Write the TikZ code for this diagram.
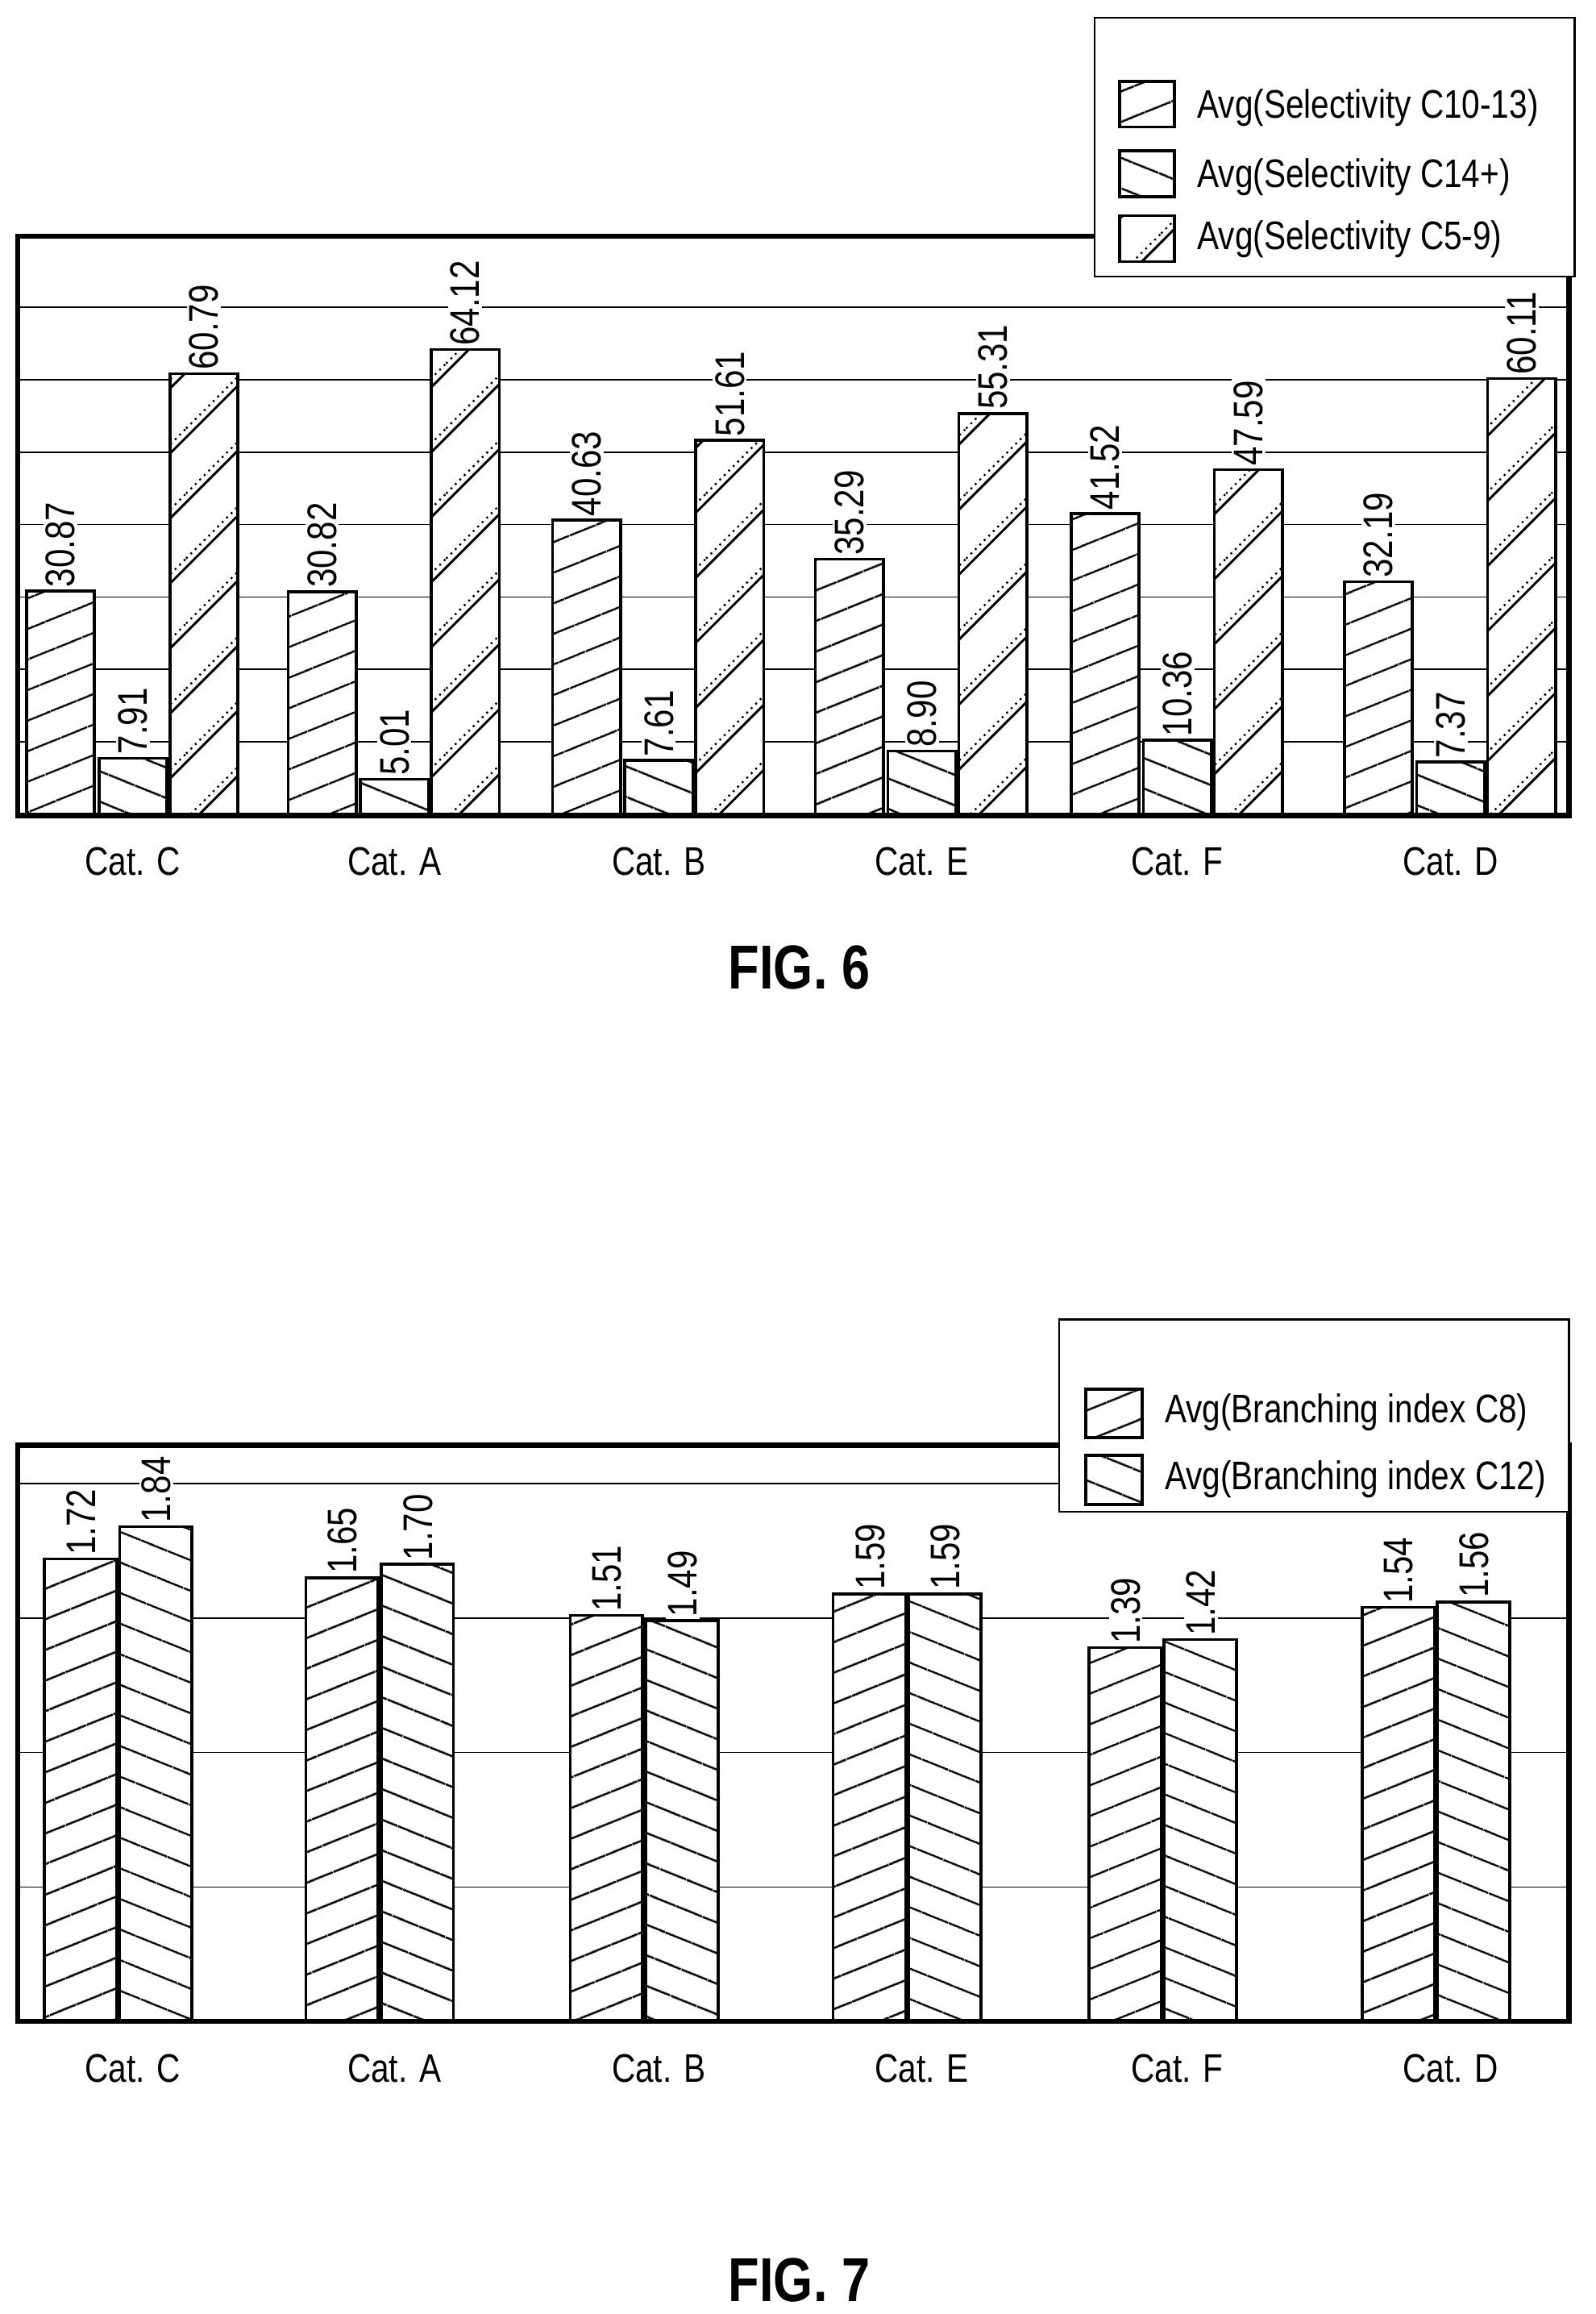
\documentclass[tikz,border=0pt]{standalone}
\usepackage{fontspec}
\setmainfont{Liberation Sans}[FakeStretch=0.82]
\usetikzlibrary{patterns,patterns.meta}
\pgfdeclarepatternformonly{dhatch}{\pgfpoint{-1pt}{-1pt}}{\pgfpoint{45pt}{45pt}}{\pgfpoint{44pt}{44pt}}{%
  \pgfsetlinewidth{1.6pt}%
  \pgfpathmoveto{\pgfpoint{0pt}{0pt}}\pgfpathlineto{\pgfpoint{44pt}{44pt}}\pgfusepath{stroke}%
  \pgfsetlinewidth{1.3pt}\pgfsetdash{{1.3pt}{3pt}}{0pt}%
  \pgfpathmoveto{\pgfpoint{0pt}{6pt}}\pgfpathlineto{\pgfpoint{38pt}{44pt}}\pgfusepath{stroke}%
  \pgfpathmoveto{\pgfpoint{38pt}{0pt}}\pgfpathlineto{\pgfpoint{44pt}{6pt}}\pgfusepath{stroke}%
}
\begin{document}
\begin{tikzpicture}[x=1pt,y=-1pt,
  lbl/.style={font=\fontsize{28}{30}\selectfont,inner sep=1.5pt,fill=white},
  cat/.style={font=\fontsize{27}{30}\selectfont},
  hA/.style={fill=white,postaction={pattern={Lines[angle=22,distance=19.5pt,line width=1.5pt]}}},
  hB/.style={fill=white,postaction={pattern={Lines[angle=-22,distance=19.5pt,line width=1.5pt]}}},
  hC/.style={fill=white,postaction={pattern=dhatch}},
  bar/.style={draw,line width=2pt},
  grid/.style={line width=0.9pt},
  frame/.style={draw,line width=3.5pt},
  leg/.style={draw,fill=white,line width=1.3pt}]
\useasboundingbox (0,0) rectangle (1080,1566);
% ---------- FIG 6 ----------
\foreach \y in {208,257,306,355,404,453,502} \draw[grid] (12,\y) -- (1062,\y);
\foreach \c/\n/\a/\b/\d [count=\i] in {90/C/30.87/7.91/60.79,267/A/30.82/5.01/64.12,446/B/40.63/7.61/51.61,624/E/35.29/8.90/55.31,797/F/41.52/10.36/47.59,982/D/32.19/7.37/60.11}{
  \pgfmathsetmacro\ya{552-4.92*\a}\pgfmathsetmacro\yb{552-4.92*\b}\pgfmathsetmacro\yd{552-4.92*\d}
  \draw[bar,hA] (\c-72,552) rectangle (\c-26,\ya);
  \draw[bar,hB] (\c-23,552) rectangle (\c+23,\yb);
  \draw[bar,hC] (\c+25,552) rectangle (\c+71,\yd);
  \node[lbl,rotate=90,anchor=west] (la\i) at (\c-49,\ya-1) {\a};
  \node[lbl,rotate=90,anchor=west] (lb\i) at (\c,\yb-1) {\b};
  \node[lbl,rotate=90,anchor=west] (ld\i) at (\c+48,\yd-1) {\d};
  \node[cat] (cat6\i) at (\c,583) {Cat. \n};
}
\draw[frame] (12,160) rectangle (1062,552);
\draw[leg] (741,12) rectangle (1066,187);
\draw[bar,hA] (758,55) rectangle (795,86);
\draw[bar,hB] (758,102) rectangle (795,133);
\draw[bar,hC] (758,146) rectangle (795,177);
\node[cat,anchor=west] (l61) at (807,73) {Avg(Selectivity C10-13)};
\node[cat,anchor=west] (l62) at (807,120) {Avg(Selectivity C14+)};
\node[cat,anchor=west] (l63) at (807,162) {Avg(Selectivity C5-9)};
\node[font=\fontsize{42}{46}\selectfont\bfseries] (f6) at (541,655) {FIG. 6};
% ---------- FIG 7 ----------
\foreach \y in {1004,1095,1186,1277} \draw[grid] (12,\y) -- (1062,\y);
\foreach \c/\n/\a/\b [count=\i] in {90/C/1.72/1.84,267/A/1.65/1.70,446/B/1.51/1.49,624/E/1.59/1.59,797/F/1.39/1.42,982/D/1.54/1.56}{
  \pgfmathsetmacro\ya{1368-182*\a}\pgfmathsetmacro\yb{1368-182*\b}
  \draw[bar,hA] (\c-60,1368) rectangle (\c-11,\ya);
  \draw[bar,hB] (\c-9,1368) rectangle (\c+40,\yb);
  \node[lbl,rotate=90,anchor=west] (ma\i) at (\c-35,\ya-1) {\a};
  \node[lbl,rotate=90,anchor=west] (mb\i) at (\c+16,\yb-1) {\b};
  \node[cat] (cat7\i) at (\c,1400) {Cat. \n};
}
\draw[frame] (12,978) rectangle (1062,1368);
\draw[leg] (717,893) rectangle (1062,1023);
\draw[bar,hA] (735,940) rectangle (773,973);
\draw[bar,hB] (735,985) rectangle (773,1018);
\node[cat,anchor=west] (l71) at (785,956) {Avg(Branching index C8)};
\node[cat,anchor=west] (l72) at (785,1001) {Avg(Branching index C12)};
\node[font=\fontsize{42}{46}\selectfont\bfseries] (f7) at (541,1543) {FIG. 7};
\end{tikzpicture}
\end{document}
